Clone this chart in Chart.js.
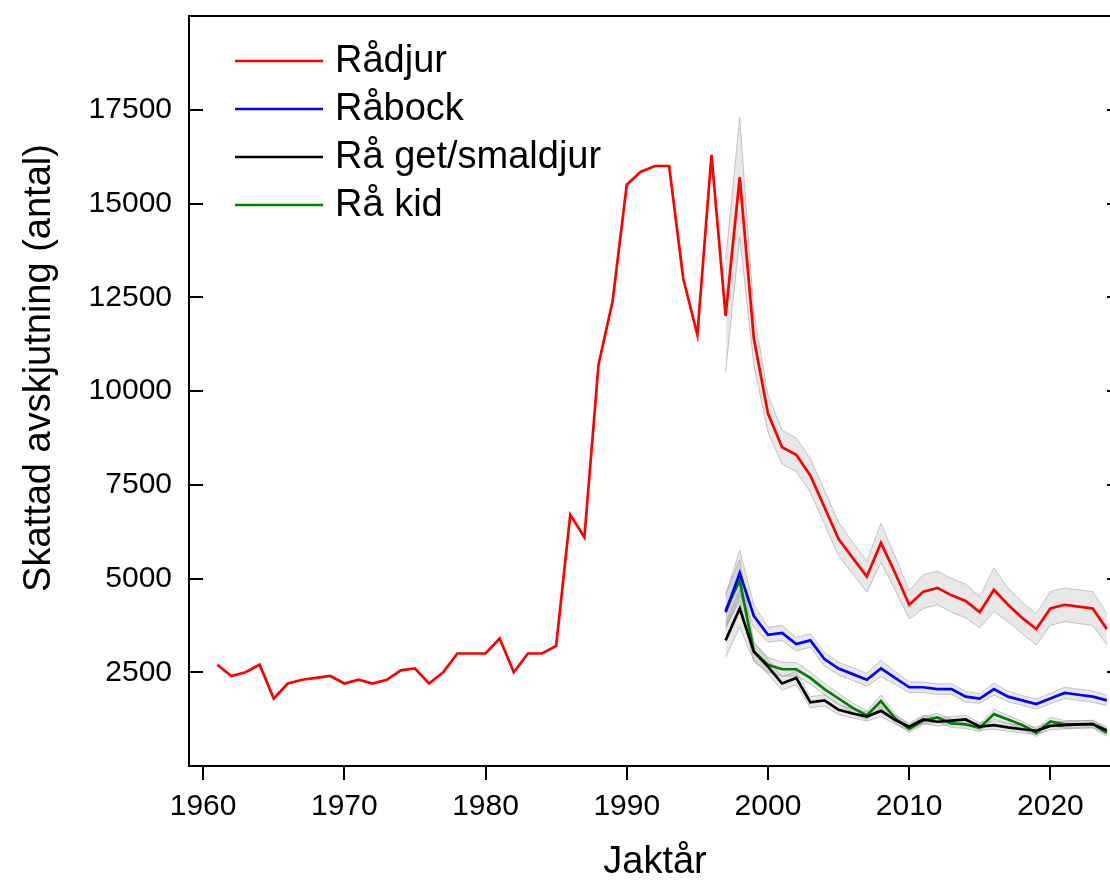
<!DOCTYPE html>
<html><head><meta charset="utf-8">
<script src="https://cdn.jsdelivr.net/npm/chart.js@4/dist/chart.umd.min.js"></script>
<style>html,body{margin:0;padding:0;overflow:hidden;background:#fff;width:1110px;height:882px}</style>
</head><body>
<canvas id="c" width="1125" height="882" style="display:block;width:1125px;height:882px"></canvas>
<script>
// ---- Data ----
const yearsAll = [1961,1962,1963,1964,1965,1966,1967,1968,1969,1970,1971,1972,1973,1974,1975,1976,1977,1978,1979,1980,
  1981,1982,1983,1984,1985,1986,1987,1988,1989,1990,1991,1992,1993,1994,1995,1996,1997,1998,1999,2000,
  2001,2002,2003,2004,2005,2006,2007,2008,2009,2010,2011,2012,2013,2014,2015,2016,2017,2018,2019,2020,
  2021,2022,2023,2024];
const yearsSurvey = [1997,1998,1999,2000,2001,2002,2003,2004,2005,2006,2007,2008,2009,2010,
  2011,2012,2013,2014,2015,2016,2017,2018,2019,2020,2021,2022,2023,2024];

const radjur = [2700,2400,2500,2700,1800,2200,2300,2350,2400,2200,2300,2200,2300,2550,2600,2200,2500,3000,3000,3000,
  3400,2500,3000,3000,3200,6700,6100,10700,12400,15500,15850,16000,16000,13000,11500,16300,12000,15700,11400,9400,
  8500,8300,7750,6900,6050,5550,5050,5950,5150,4300,4650,4750,4550,4400,4100,4700,4300,3950,3650,4200,
  4300,4250,4200,3650];
const radjurCI = [1500,1600,700,500,450,450,450,450,450,420,420,520,450,380,450,450,450,450,420,580,450,420,420,450,450,450,450,420];

const rabock = [4100,5150,4000,3500,3550,3250,3350,2850,2600,2450,2300,2600,2350,2100,2100,2050,2050,1850,1800,2050,1850,1750,1650,1800,1950,1900,1850,1750];
const rabockCI = [450,600,300,200,200,180,180,180,170,170,170,220,170,140,140,140,140,140,130,160,140,130,130,140,150,150,150,140];

const raGet = [3350,4200,3050,2650,2200,2350,1700,1750,1500,1400,1320,1470,1230,1050,1240,1180,1210,1240,1050,1090,1030,980,940,1070,1090,1110,1120,950];
const raGetCI = [450,500,250,200,180,180,150,150,130,120,120,150,120,100,110,110,110,110,100,110,100,100,100,100,100,100,100,100];

const raKid = [4150,4950,3050,2700,2580,2580,2350,2050,1800,1550,1350,1730,1270,990,1210,1295,1135,1110,1020,1383,1242,1091,886,1190,1110,1110,1117,886];
const raKidCI = [450,550,250,200,180,180,160,150,140,130,120,160,120,100,110,110,110,110,100,130,110,100,100,110,100,100,100,100];

const xTickValues = [1960,1970,1980,1990,2000,2010,2020];
const yTickLabels = ['2500','5000','7500','10000','12500','15000','17500'];

// ---- Build ----
const FONT = "'Liberation Sans', Arial, Helvetica, sans-serif";
const pts = (xs, ys) => xs.map((x, i) => ({x: x, y: ys[i]}));
const radjurSurvey = yearsSurvey.map(y => radjur[yearsAll.indexOf(y)]);

const bandFill = 'rgba(120,120,120,0.17)';
const bandEdge = 'rgba(150,150,150,0.5)';
function band(values, ci, label) {
  return [
    {label: label + ' upper', isBand: true, data: pts(yearsSurvey, values.map((v, i) => v + ci[i])),
     fill: '+1', backgroundColor: bandFill, borderColor: bandEdge, borderWidth: 1, pointRadius: 0, order: 2},
    {label: label + ' lower', isBand: true, data: pts(yearsSurvey, values.map((v, i) => v - ci[i])),
     fill: false, borderColor: bandEdge, borderWidth: 1, pointRadius: 0, order: 2}
  ];
}
function line(label, xs, ys, color) {
  return {label: label, data: pts(xs, ys), borderColor: color, backgroundColor: color,
          borderWidth: 2.7, pointRadius: 0, fill: false, tension: 0, order: 1};
}

const datasets = [
  line('Rådjur', yearsAll, radjur, '#ff0000'),
  line('Råbock', yearsSurvey, rabock, '#0000ff'),
  line('Rå get/smaldjur', yearsSurvey, raGet, '#000000'),
  line('Rå kid', yearsSurvey, raKid, '#008000'),
  ...band(radjurSurvey, radjurCI, 'Rådjur'),
  ...band(rabock, rabockCI, 'Råbock'),
  ...band(raGet, raGetCI, 'Rå get/smaldjur'),
  ...band(raKid, raKidCI, 'Rå kid')
];

const framePlugin = {
  id: 'frame',
  afterDraw(chart) {
    const {ctx, chartArea: a, scales: {y}} = chart;
    ctx.save();
    ctx.strokeStyle = '#000';
    ctx.lineWidth = 2;
    ctx.strokeRect(a.left, a.top, a.right - a.left, a.bottom - a.top);
    // inward y ticks on both sides
    y.ticks.forEach(t => {
      if (!yTickLabels.includes(String(t.value))) return;
      const py = Math.round(y.getPixelForValue(t.value));
      ctx.beginPath();
      ctx.moveTo(a.left, py); ctx.lineTo(a.left + 14, py);
      ctx.moveTo(a.right, py); ctx.lineTo(a.right - 14, py);
      ctx.stroke();
    });
    // y-axis title
    ctx.fillStyle = '#000';
    ctx.font = '38px ' + FONT;
    ctx.textAlign = 'center';
    ctx.textBaseline = 'middle';
    ctx.translate(40, 368);
    ctx.rotate(-Math.PI / 2);
    ctx.fillText('Skattad avskjutning (antal)', 0, 0);
    ctx.restore();
    // legend
    ctx.save();
    ctx.font = '38px ' + FONT;
    ctx.textAlign = 'left';
    ctx.textBaseline = 'middle';
    ctx.fillStyle = '#000';
    chart.data.datasets.filter(d => !d.isBand).forEach((d, i) => {
      const ly = 61 + i * 48;
      ctx.strokeStyle = d.borderColor;
      ctx.lineWidth = 2.5;
      ctx.beginPath(); ctx.moveTo(235, ly); ctx.lineTo(323, ly); ctx.stroke();
      ctx.fillText(d.label, 335, ly + 1);
    });
    ctx.restore();
  }
};

new Chart(document.getElementById('c'), {
  type: 'line',
  data: {datasets: datasets},
  plugins: [framePlugin],
  options: {
    responsive: false,
    animation: false,
    devicePixelRatio: 1,
    events: [],
    layout: {padding: {left: 0, top: 16, right: 4, bottom: 0}},
    plugins: {legend: {display: false}, tooltip: {enabled: false}},
    scales: {
      x: {
        type: 'linear', min: 1959, max: 2025,
        afterBuildTicks: s => { s.ticks = xTickValues.map(v => ({value: v})); },
        afterFit: s => { s.height = 116; s.paddingLeft = 0; s.paddingRight = 0; },
        ticks: {autoSkip: false, maxRotation: 0, padding: 9, color: '#000',
                font: {family: FONT, size: 30}, callback: v => String(v)},
        grid: {display: true, drawOnChartArea: false, drawTicks: true, tickLength: 14, color: '#000', lineWidth: 2},
        border: {display: false},
        title: {display: true, text: 'Jaktår', color: '#000', font: {family: FONT, size: 38, lineHeight: 1}, padding: {top: 0, bottom: 0}}
      },
      y: {
        type: 'linear', min: 0, max: 20000,
        afterFit: s => { s.width = 189; s.paddingTop = 0; s.paddingBottom = 0; },
        ticks: {stepSize: 2500, padding: 17, color: '#000', font: {family: FONT, size: 30},
                callback: v => yTickLabels.includes(String(v)) ? String(v) : ''},
        grid: {display: false, drawTicks: false, tickLength: 0},
        border: {display: false}
      }
    }
  }
});
</script>
</body></html>
